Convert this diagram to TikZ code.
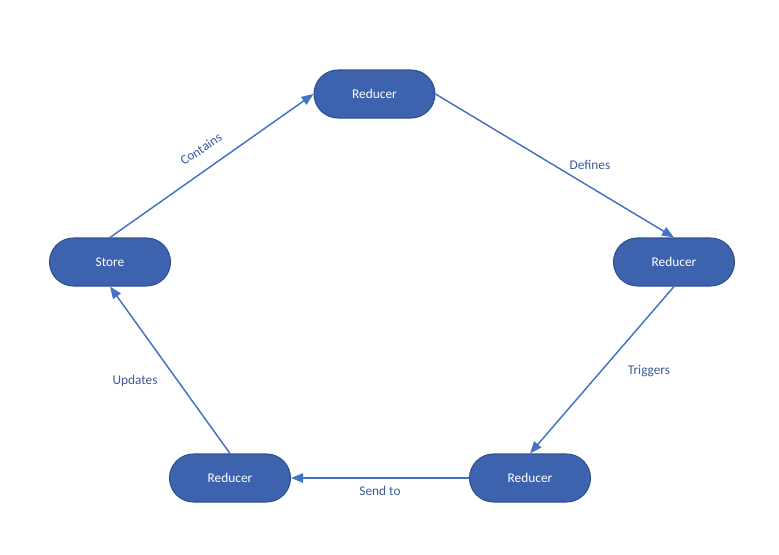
\documentclass[tikz,border=0pt]{standalone}
\usepackage{fontspec}
\setmainfont{Carlito}
\usetikzlibrary{arrows.meta,positioning}
\definecolor{pillfill}{HTML}{3D63AE}
\definecolor{pillline}{HTML}{2F528F}
\definecolor{linkblue}{HTML}{4472C4}
\definecolor{labelblue}{HTML}{3B5C9C}

\begin{document}
\begin{tikzpicture}[
  x=0.75pt,
  y=-0.75pt,
  font=\fontsize{10}{12}\selectfont,
  >={Triangle[length=9pt,width=7pt]},
  pill/.style={draw=pillline, line width=0.8pt, fill=pillfill, text=white, rounded corners=18pt, minimum width=90.75pt, minimum height=36pt, inner sep=2pt},
  flow/.style={->, draw=linkblue, fill=linkblue, line width=1.1pt},
  tag/.style={text=labelblue, inner sep=1pt}
]
  \useasboundingbox (0,0) rectangle (779,554);

  \node[pill] (top) at (374.5, 94) {Reducer};
  \node[pill] (store) at (110, 262) {Store};
  \node[pill] (right) at (674, 262) {Reducer};
  \node[pill] (botright) at (530, 478) {Reducer};
  \node[pill] (botleft) at (230, 478) {Reducer};

  \draw[flow] (store.north) -- (top.west);
  \draw[flow] (top.east) -- (right.north);
  \draw[flow] (right.south) -- (botright.north);
  \draw[flow] (botright.west) -- (botleft.east);
  \draw[flow] (botleft.north) -- (store.south);

  \node[tag, rotate=34] (contains) at (201, 149) {Contains};
  \node[tag] (defines) at (590, 165) {Defines};
  \node[tag] (triggers) at (649, 371) {Triggers};
  \node[tag] (sendto) at (380, 491) {Send to};
  \node[tag] (updates) at (135, 381) {Updates};
\end{tikzpicture}
\end{document}
